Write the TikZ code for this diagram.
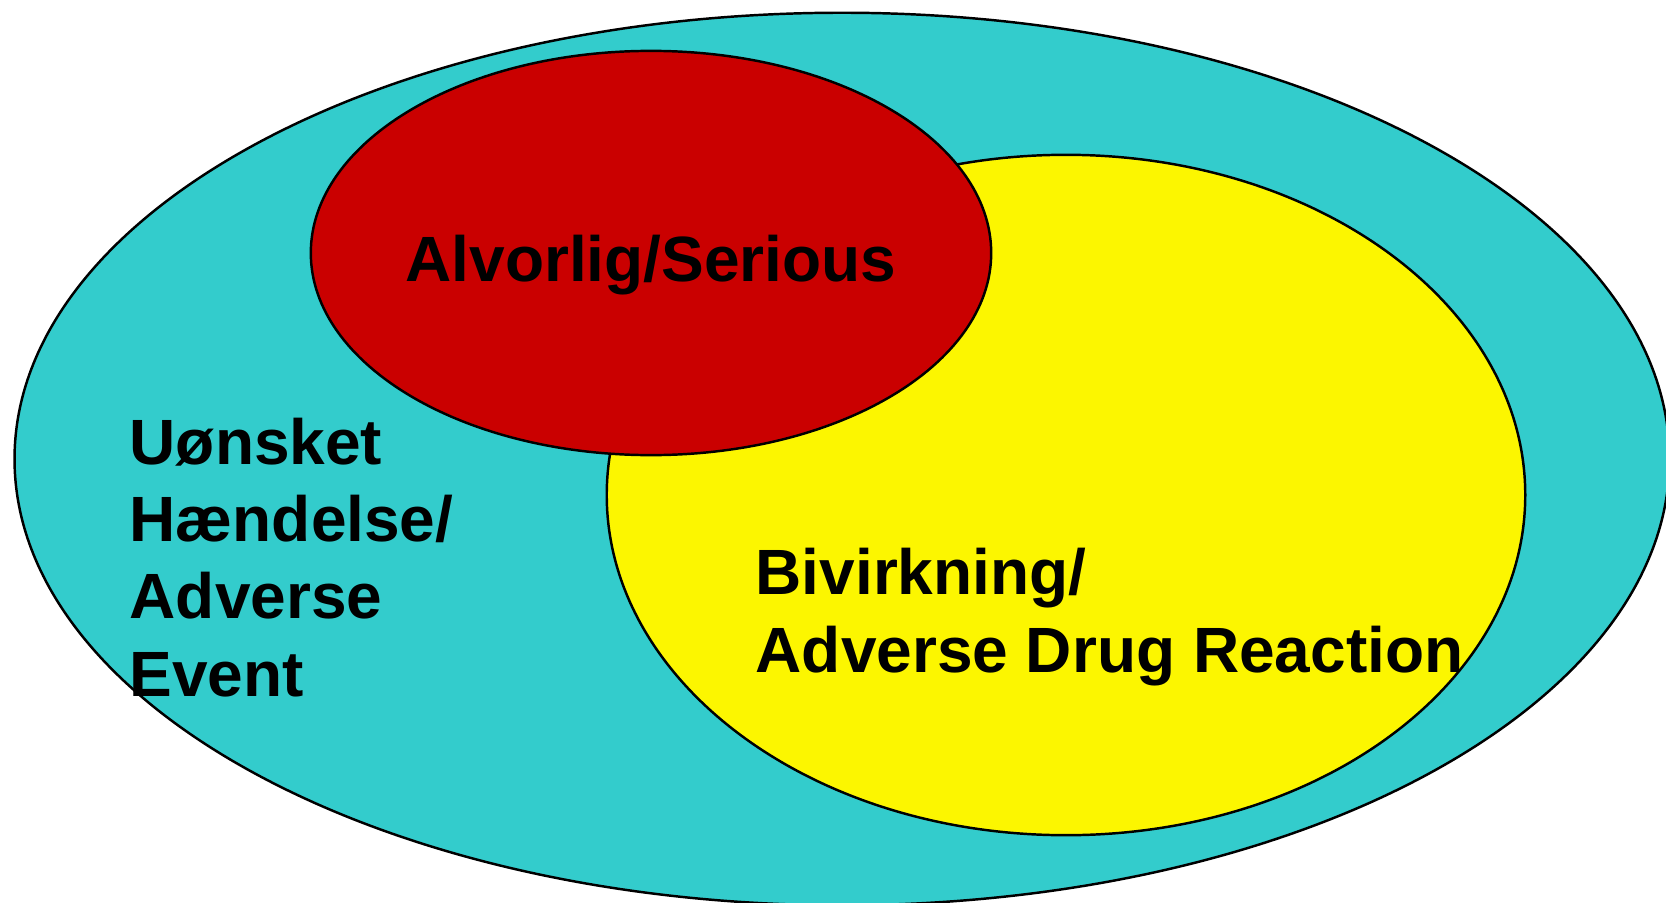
\documentclass[tikz,border=0pt]{standalone}
\usepackage{fontspec}
\setmainfont{Liberation Sans}
\usetikzlibrary{positioning}
\definecolor{aecyan}{RGB}{51,204,204}
\definecolor{aered}{RGB}{202,0,0}
\definecolor{aeyellow}{RGB}{252,246,0}
\tikzset{
  ring/.style={draw=black, line width=0.7pt},
  label/.style={inner sep=0pt, font=\fontsize{18.2pt}{21.9pt}\selectfont\bfseries, align=left}
}

\begin{document}
\begin{tikzpicture}[x=0.01cm, y=-0.01cm]
\useasboundingbox (0,0) rectangle (1666,903);
% the three sets
\path[ring, fill=aecyan] (842,459) ellipse [x radius=8.27cm, y radius=4.46cm];
\path[ring, fill=aeyellow] (1066,495) ellipse [x radius=4.59cm, y radius=3.40cm];
\path[ring, fill=aered] (651,253) ellipse [x radius=3.40cm, y radius=2.02cm];
% labels (base of a multi-line node is its last line)
\node[label, anchor=base] (serious) at (651,281) {Alvorlig/Serious};
\node[label, anchor=base west] (event) at (129,696) {Uønsket\\Hændelse/\\Adverse\\Event};
\node[label, anchor=base west] (reaction) at (755,672) {Bivirkning/\\Adverse Drug Reaction};
\end{tikzpicture}
\end{document}
